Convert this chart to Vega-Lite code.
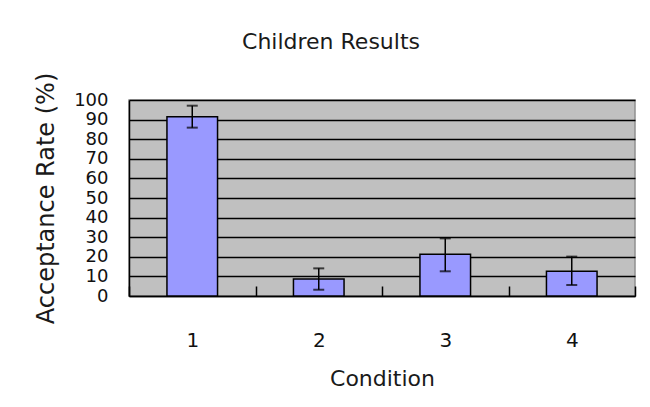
{
  "$schema": "https://vega.github.io/schema/vega-lite/v6.json",
  "autosize": {"type": "none"},
  "width": 506,
  "height": 196,
  "padding": {"left": 129, "top": 100, "right": 15, "bottom": 111},
  "background": "white",
  "title": {
    "text": "Children Results",
    "font": "DejaVu Sans",
    "fontSize": 22,
    "fontWeight": "normal",
    "color": "#1a1a1a",
    "anchor": "middle",
    "frame": "group",
    "dx": -51,
    "offset": 18
  },
  "data": {
    "values": [
      {"condition": "1", "rate": 91.5, "lo": 85.9, "hi": 97.1},
      {"condition": "2", "rate": 8.7, "lo": 3.2, "hi": 14.1},
      {"condition": "3", "rate": 21.3, "lo": 12.6, "hi": 29.4},
      {"condition": "4", "rate": 12.6, "lo": 5.6, "hi": 20.1}
    ]
  },
  "encoding": {
    "x": {
      "field": "condition",
      "type": "nominal",
      "title": "Condition",
      "scale": {"paddingInner": 0, "paddingOuter": 0},
      "axis": {
        "labelAngle": 0,
        "labelFont": "DejaVu Sans",
        "labelFontSize": 20,
        "labelColor": "#111",
        "labelPadding": 44,
        "tickBand": "extent",
        "tickSize": -10,
        "tickColor": "black",
        "tickWidth": 1.5,
        "domainColor": "black",
        "domainWidth": 1.5,
        "titleFont": "DejaVu Sans",
        "titleFontSize": 22,
        "titleFontWeight": "normal",
        "titleColor": "#1a1a1a",
        "titlePadding": 18,
        "grid": false
      }
    }
  },
  "layer": [
    {
      "mark": {"type": "bar", "width": {"band": 0.4}, "fill": "#9999ff", "stroke": "black", "strokeWidth": 1.5},
      "encoding": {
        "y": {
          "field": "rate",
          "type": "quantitative",
          "title": "Acceptance Rate (%)",
          "scale": {"domain": [0, 100], "nice": false}
        }
      }
    },
    {
      "mark": {"type": "rule", "color": "black", "strokeWidth": 1.5},
      "encoding": {
        "y": {"field": "lo", "type": "quantitative"},
        "y2": {"field": "hi"}
      }
    },
    {
      "mark": {"type": "tick", "color": "black", "size": 11, "thickness": 2},
      "encoding": {"y": {"field": "lo", "type": "quantitative"}}
    },
    {
      "mark": {"type": "tick", "color": "black", "size": 11, "thickness": 2},
      "encoding": {"y": {"field": "hi", "type": "quantitative"}}
    }
  ],
  "config": {
    "view": {"fill": "#c0c0c0", "stroke": "#909090", "strokeWidth": 1.5},
    "axisY": {
      "tickCount": 10,
      "ticks": false,
      "labelOverlap": false,
      "labelFont": "DejaVu Sans",
      "labelFontSize": 18,
      "labelColor": "#111",
      "labelPadding": 21,
      "domainColor": "black",
      "domainWidth": 1.5,
      "grid": true,
      "gridColor": "black",
      "gridWidth": 1.5,
      "gridOpacity": 1,
      "titleFont": "DejaVu Sans",
      "titleFontSize": 24,
      "titleFontWeight": "normal",
      "titleColor": "#1a1a1a",
      "titlePadding": 15
    }
  }
}
